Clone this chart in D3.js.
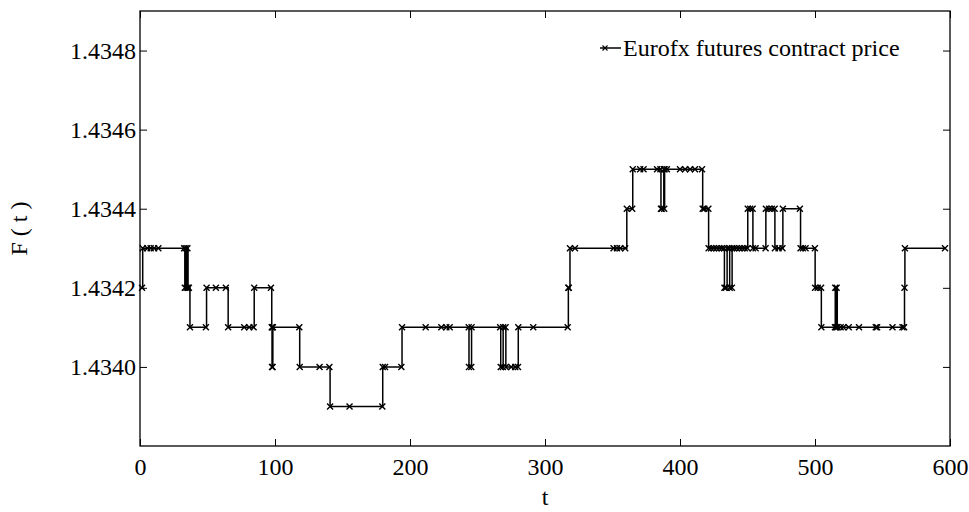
<!DOCTYPE html>
<html>
<head>
<meta charset="utf-8">
<script src="https://cdn.jsdelivr.net/npm/d3@7"></script>
<style>
  body { margin: 0; background: #fff; }
  svg text { font-family: "Liberation Serif", "Times New Roman", serif; fill: #000; }
</style>
</head>
<body>
<div id="chart"></div>
<script>
const width = 969;
const height = 512;
const margin = { top: 11, right: 19, bottom: 66, left: 140 };

// Observations (temps t, prix F)
const times = [
  1.5, 2, 5.4, 7.9, 10.4, 13.6,
  32.7, 33.2, 33.8, 34.5, 35.1, 35.6, 36.2, 37,
  48.8, 49.3, 56.2, 63.6, 65.3, 77.2, 80.9, 84.2, 84.6, 97,
  97.6, 97.8, 98.0, 98.2, 98.4,
  118, 118.3, 133, 140.3, 140.8, 155.2, 179.5, 179.8, 181.5, 193.6,
  194.1, 211.6, 223.2, 226.9, 229.4, 243.5, 243.7, 245.4, 245.6,
  266.8, 267.2, 268.8, 269, 270.8, 271, 275, 278, 280, 280.2, 291.3,
  316.8, 317.3, 317.6, 318.5, 322.2, 350.8, 353.3, 355.7, 359.4, 360.6, 364.6,
  365, 370.5, 373, 383, 385.5, 385.9, 386.5, 388, 388.3, 388.6, 390.3,
  400, 403.8, 407.5, 411.1, 416.3, 416.8, 418, 421, 421.2,
  423, 425, 427, 429, 431, 432.7, 432.9, 434, 434.9, 436.6, 436.8, 438.4, 438.6,
  440, 442, 444, 446, 448, 450, 450.2, 452, 453.8, 454, 456, 463.4,
  463.6, 466, 468, 470.1, 470.3, 473, 475.9, 476.2, 488.8,
  489.3, 491, 493, 499.9, 500.1, 502, 504.5, 504.7,
  514.8, 515, 515.6, 516, 516.5, 519, 521, 525, 532.6, 545, 546, 557.4,
  564.8, 566, 566.3, 566.6, 596.3
];
const prices = [
  1.4342, 1.4343, 1.4343, 1.4343, 1.4343, 1.4343,
  1.4343, 1.4342, 1.4343, 1.4342, 1.4343, 1.4342, 1.4342, 1.4341,
  1.4341, 1.4342, 1.4342, 1.4342, 1.4341, 1.4341, 1.4341, 1.4341, 1.4342, 1.4342,
  1.4341, 1.4340, 1.4341, 1.4340, 1.4341,
  1.4341, 1.4340, 1.4340, 1.4340, 1.4339, 1.4339, 1.4339, 1.4340, 1.4340, 1.4340,
  1.4341, 1.4341, 1.4341, 1.4341, 1.4341, 1.4341, 1.4340, 1.4340, 1.4341,
  1.4341, 1.4340, 1.4340, 1.4341, 1.4341, 1.4340, 1.4340, 1.4340, 1.4340, 1.4341, 1.4341,
  1.4341, 1.4342, 1.4342, 1.4343, 1.4343, 1.4343, 1.4343, 1.4343, 1.4343, 1.4344, 1.4344,
  1.4345, 1.4345, 1.4345, 1.4345, 1.4345, 1.4344, 1.4344, 1.4345, 1.4344, 1.4345, 1.4345,
  1.4345, 1.4345, 1.4345, 1.4345, 1.4345, 1.4344, 1.4344, 1.4344, 1.4343,
  1.4343, 1.4343, 1.4343, 1.4343, 1.4343, 1.4343, 1.4342, 1.4342, 1.4343, 1.4343, 1.4342, 1.4342, 1.4343,
  1.4343, 1.4343, 1.4343, 1.4343, 1.4343, 1.4343, 1.4344, 1.4344, 1.4344, 1.4343, 1.4343, 1.4343,
  1.4344, 1.4344, 1.4344, 1.4344, 1.4343, 1.4343, 1.4343, 1.4344, 1.4344,
  1.4343, 1.4343, 1.4343, 1.4343, 1.4342, 1.4342, 1.4342, 1.4341,
  1.4341, 1.4342, 1.4341, 1.4342, 1.4341, 1.4341, 1.4341, 1.4341, 1.4341, 1.4341, 1.4341, 1.4341,
  1.4341, 1.4341, 1.4342, 1.4343, 1.4343
];

const xTicks = [0, 100, 200, 300, 400, 500, 600];
const yTicks = [1.4340, 1.4342, 1.4344, 1.4346, 1.4348];
const seriesLabel = "Eurofx futures contract price";

const data = times.map((t, i) => ({ t: t, f: prices[i] }));

const svg = d3.select("#chart")
  .append("svg")
  .attr("width", width)
  .attr("height", height);

const x = d3.scaleLinear()
  .domain([0, 600])
  .range([margin.left, width - margin.right]);

const y = d3.scaleLinear()
  .domain([1.4338, 1.4349])
  .range([height - margin.bottom, margin.top]);

const tickLen = 7;

// Axes (graduations vers l'intérieur sur les quatre côtés)
function styleAxis(g) {
  g.select(".domain").remove();
  g.selectAll("line").attr("stroke", "#000").attr("stroke-width", 1);
  g.selectAll("text").attr("font-size", "24px");
}

svg.append("g")
  .attr("transform", `translate(0,${height - margin.bottom})`)
  .call(d3.axisBottom(x).tickValues(xTicks).tickSize(-tickLen).tickPadding(tickLen + 5).tickFormat(d3.format("d")))
  .call(styleAxis);

svg.append("g")
  .attr("transform", `translate(0,${margin.top})`)
  .call(d3.axisTop(x).tickValues(xTicks).tickSize(-tickLen).tickFormat(""))
  .call(styleAxis);

svg.append("g")
  .attr("transform", `translate(${margin.left},0)`)
  .call(d3.axisLeft(y).tickValues(yTicks).tickSize(-tickLen).tickPadding(4).tickFormat(d3.format(".4f")))
  .call(styleAxis);

svg.append("g")
  .attr("transform", `translate(${width - margin.right},0)`)
  .call(d3.axisRight(y).tickValues(yTicks).tickSize(-tickLen).tickFormat(""))
  .call(styleAxis);

// Cadre
svg.append("rect")
  .attr("x", margin.left)
  .attr("y", margin.top)
  .attr("width", width - margin.left - margin.right)
  .attr("height", height - margin.top - margin.bottom)
  .attr("fill", "none")
  .attr("stroke", "#000")
  .attr("stroke-width", 1.3);

// Courbe en escalier
const line = d3.line()
  .x(d => x(d.t))
  .y(d => y(d.f))
  .curve(d3.curveStepAfter);

svg.append("path")
  .datum(data)
  .attr("fill", "none")
  .attr("stroke", "#000")
  .attr("stroke-width", 1.5)
  .attr("d", line);

const cross = "M-3,-3L3,3M-3,3L3,-3";

svg.append("g")
  .selectAll("path")
  .data(data)
  .enter()
  .append("path")
  .attr("transform", d => `translate(${x(d.t)},${y(d.f)})`)
  .attr("d", cross)
  .attr("stroke", "#000")
  .attr("stroke-width", 1.4)
  .attr("fill", "none");

// Légende
const legend = svg.append("g").attr("transform", "translate(600,48)");
legend.append("line")
  .attr("x1", 0).attr("x2", 21)
  .attr("y1", 0).attr("y2", 0)
  .attr("stroke", "#000").attr("stroke-width", 1.5);
legend.append("path")
  .attr("transform", "translate(5,0)")
  .attr("d", "M-2.5,-2.5L2.5,2.5M-2.5,2.5L2.5,-2.5")
  .attr("stroke", "#000").attr("stroke-width", 1.1);
legend.append("text")
  .attr("x", 23)
  .attr("y", 8)
  .attr("font-size", "24px")
  .text(seriesLabel);

// Titres des axes
svg.append("text")
  .attr("x", (margin.left + width - margin.right) / 2)
  .attr("y", 505)
  .attr("text-anchor", "middle")
  .attr("font-size", "24px")
  .text("t");

svg.append("text")
  .attr("transform", `translate(27,${(margin.top + height - margin.bottom) / 2}) rotate(-90)`)
  .attr("text-anchor", "middle")
  .attr("font-size", "24px")
  .text("F ( t )");
</script>
</body>
</html>
